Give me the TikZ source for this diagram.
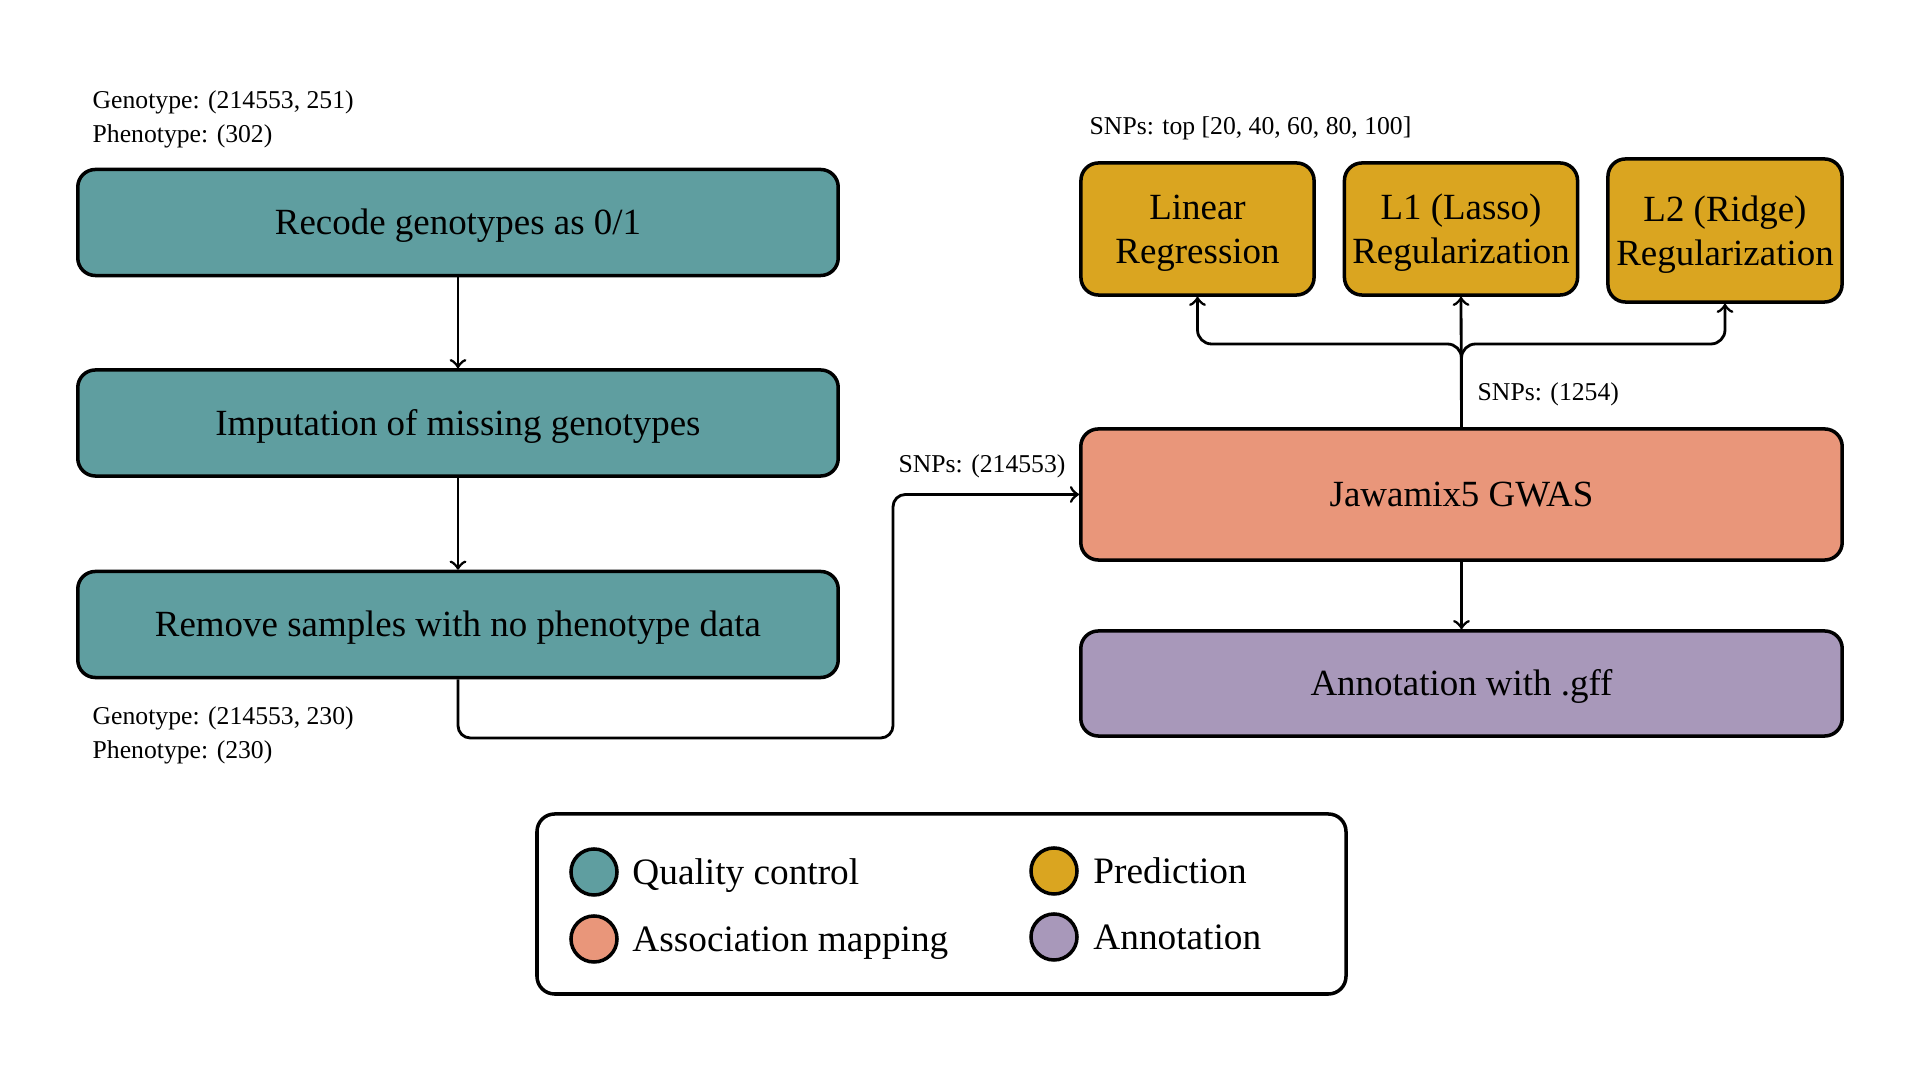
\documentclass[tikz,border=0pt]{standalone}
\usepackage{fontspec}
\setmainfont{Liberation Serif}
\usetikzlibrary{positioning}

\definecolor{qcteal}{HTML}{5F9EA0}
\definecolor{gwassalmon}{HTML}{E9967A}
\definecolor{predgold}{HTML}{DAA520}
\definecolor{annotlilac}{HTML}{A898BA}

\tikzset{
  stepbox/.style={draw, line width=1pt, rounded corners=5pt, align=center,
    inner sep=0pt, font=\fontsize{10.5}{12.5}\selectfont},
  wide/.style={stepbox, minimum width=7.6cm, minimum height=1.06cm,
    text height=7pt, text depth=0pt},
  predbox/.style={stepbox, fill=predgold, minimum width=2.33cm, minimum height=1.32cm,
    text depth=0pt},
  note/.style={inner sep=0pt, align=left, font=\fontsize{7.3}{9.7}\selectfont},
  arr/.style={->, line width=0.8pt},
  legdot/.style={circle, draw, line width=1pt, minimum size=0.46cm, inner sep=0pt},
  legtext/.style={inner sep=0pt, text height=7pt, text depth=0pt,
    font=\fontsize{10.6}{12.5}\selectfont},
}

\begin{document}
\begin{tikzpicture}[x=0.01cm, y=-0.01cm]
  % Canvas
  \useasboundingbox (0,0) rectangle (1920,1080);

  % Quality control column
  \node[wide, fill=qcteal] (recode) at (458,222.5) {Recode genotypes as 0/1};
  \node[wide, fill=qcteal] (impute) at (458,423) {Imputation of missing genotypes};
  \node[wide, fill=qcteal] (remove) at (458,624.5) {Remove samples with no phenotype data};

  \draw[arr] (recode) -- (impute);
  \draw[arr] (impute) -- (remove);

  % Data sizes
  \node[note, anchor=west] (dimsin) at (92,119.5) {Genotype: (214553, 251)\\Phenotype: (302)};
  \node[note, anchor=west] (dimsout) at (92,735) {Genotype: (214553, 230)\\Phenotype: (230)};

  % Association mapping and annotation
  \node[wide, fill=gwassalmon, minimum width=7.61cm, minimum height=1.31cm] (gwas) at (1461.5,494.5) {Jawamix5 GWAS};
  \node[wide, fill=annotlilac, minimum width=7.61cm, minimum height=1.05cm] (annot) at (1461.5,683.5) {Annotation with .gff};

  \draw[arr] (gwas) -- (annot);

  \coordinate (detour) at (893,738);
  \draw[arr, rounded corners=3.5pt] (remove.south) |- (detour) |- (gwas.west);
  \node[note] (snpsall) at (982,466) {SNPs: (214553)};

  % Prediction models
  \node[predbox] (linear) at (1197.5,229) {Linear\\Regression};
  \node[predbox] (lasso) at (1461,229) {L1 (Lasso)\\Regularization};
  \node[predbox, minimum width=2.34cm, minimum height=1.43cm] (ridge) at (1725,230.5) {L2 (Ridge)\\Regularization};

  \node[note, anchor=west] (snpstop) at (1089,128.5) {SNPs: top [20, 40, 60, 80, 100]};

  \coordinate (fork) at (1461.5,344);
  \draw[arr] (gwas.north) -- (lasso.south);
  \draw[arr, rounded corners=4pt] (gwas.north) -- (fork) -| (linear.south);
  \draw[arr, rounded corners=4pt] (gwas.north) -- (fork) -| (ridge.south);
  \node[note, anchor=west] (snpssel) at (1477,394.5) {SNPs: (1254)};

  % Legend
  \draw[line width=1pt, rounded corners=5pt] (537,814) rectangle (1346,994);
  \node[legdot, fill=qcteal] (dotqc) at (594,872) {};
  \node[legdot, fill=gwassalmon] (dotgwas) at (594,939) {};
  \node[legdot, fill=predgold] (dotpred) at (1054,871) {};
  \node[legdot, fill=annotlilac] (dotannot) at (1054,937) {};
  \node[legtext, right=0.13cm of dotqc] (labqc) {Quality control};
  \node[legtext, right=0.13cm of dotgwas] (labgwas) {Association mapping};
  \node[legtext, right=0.14cm of dotpred] (labpred) {Prediction};
  \node[legtext, right=0.14cm of dotannot] (labannot) {Annotation};
\end{tikzpicture}
\end{document}
